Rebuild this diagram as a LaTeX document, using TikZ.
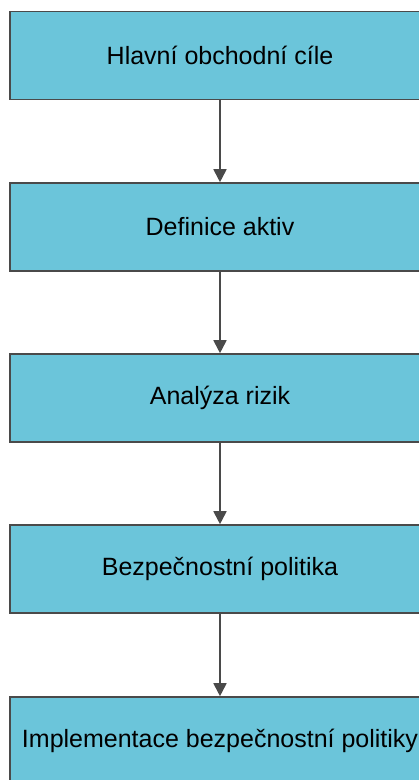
\documentclass[tikz,border=0pt]{standalone}
\usepackage{fontspec}
\setmainfont{Liberation Sans}
\usetikzlibrary{arrows.meta}
\definecolor{boxfill}{HTML}{6BC5DA}
\definecolor{edgegray}{HTML}{4A4A4A}
\tikzset{
  stepbox/.style={draw=edgegray, line width=1.6pt, fill=boxfill,
    minimum width=420pt, minimum height=88pt, inner sep=0pt,
    font=\fontsize{25}{30}\selectfont},
  flow/.style={draw=edgegray, line width=1.8pt,
    -{Triangle[width=13pt,length=13pt]}}
}
\begin{document}
\begin{tikzpicture}[x=1pt,y=-1pt]
  \useasboundingbox (0,0) rectangle (419,780);
  \node[stepbox] (goals)  at (220,55.5) {Hlavní obchodní cíle};
  \node[stepbox] (assets) at (220,227)  {Definice aktiv};
  \node[stepbox] (risk)   at (220,398)  {Analýza rizik};
  \node[stepbox] (policy) at (220,569)  {Bezpečnostní politika};
  \node[stepbox] (impl)   at (220,741)  {Implementace bezpečnostní politiky};
  \draw[flow] (goals)  -- (assets);
  \draw[flow] (assets) -- (risk);
  \draw[flow] (risk)   -- (policy);
  \draw[flow] (policy) -- (impl);
\end{tikzpicture}
\end{document}
